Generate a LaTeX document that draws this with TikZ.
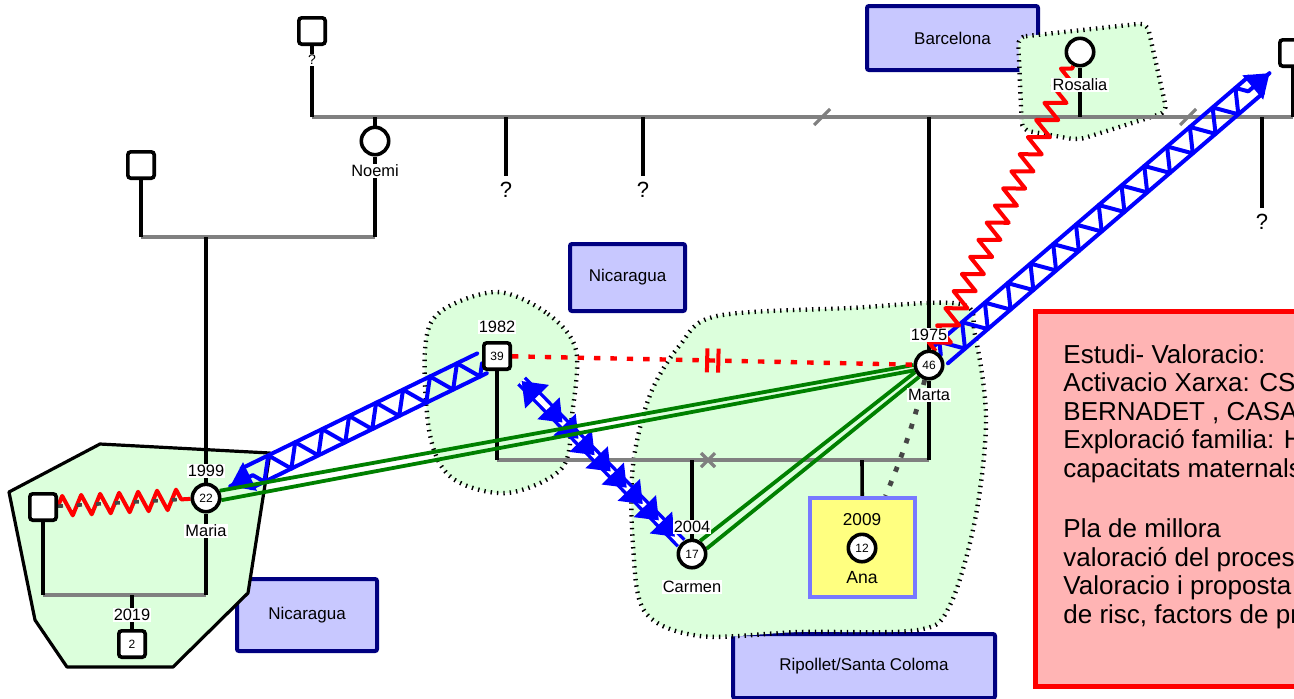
\documentclass[tikz,border=0pt]{standalone}
\usepackage{fontspec}
\setmainfont{Liberation Sans}
\usetikzlibrary{calc,arrows.meta,decorations.pathmorphing,decorations.pathreplacing,decorations.markings}
\definecolor{geno_green}{RGB}{220,255,220}
\definecolor{geno_place}{RGB}{200,200,255}
\definecolor{geno_navy}{RGB}{0,0,128}
\definecolor{geno_note}{RGB}{255,180,180}
\definecolor{geno_yellow}{RGB}{255,255,128}
\definecolor{geno_lilac}{RGB}{120,120,255}
\definecolor{geno_grey}{RGB}{128,128,128}
\definecolor{geno_dark}{RGB}{70,70,70}
\definecolor{geno_leaf}{RGB}{0,128,0}
\pgfdeclarelayer{back}
\pgfdeclarelayer{links}
\pgfsetlayers{back,links,main}
\tikzstyle{ml}=[rectangle,draw=black,fill=white,line width=1.8pt,rounded corners=1.5pt,
  minimum size=13.2pt,inner sep=0pt,font=\fontsize{6}{7}\selectfont]
\tikzstyle{fm}=[circle,draw=black,fill=white,line width=1.8pt,
  minimum size=13.7pt,inner sep=0pt,font=\fontsize{6}{7}\selectfont]
\tikzstyle{lb}=[fill=white,inner sep=0.6pt,font=\fontsize{8.2}{9}\selectfont]
\tikzstyle{qm}=[inner sep=3pt,font=\fontsize{11}{12}\selectfont]
\tikzstyle{pl}=[rectangle,draw=geno_navy,fill=geno_place,line width=2pt,rounded corners=1pt,
  font=\fontsize{8.5}{10}\selectfont]
\tikzstyle{note}=[rectangle,draw=red,fill=geno_note,line width=2.5pt]
\tikzstyle{notetxt}=[align=left,inner sep=0pt,font=\fontsize{13}{14.25}\selectfont]
\tikzstyle{anabx}=[rectangle,draw=geno_lilac,fill=geno_yellow,line width=2pt,
  minimum width=52.5pt,minimum height=49.5pt]
\tikzstyle{grp}=[fill=geno_green,draw=black,line width=2.2pt,dash pattern=on 0.7pt off 2.5pt]
\tikzstyle{fam}=[fill=geno_green,draw=black,line width=1.6pt,line join=round]
\tikzstyle{kin}=[draw=geno_grey,line width=2.1pt]
\tikzstyle{par}=[draw=black,line width=1.8pt]
\tikzstyle{cls}=[draw=geno_leaf,line width=1.9pt]
\tikzstyle{hostile}=[draw=red,line width=2pt,line join=round,decorate,
  decoration={zigzag,segment length=9.5pt,amplitude=5pt}]
\tikzstyle{apart}=[draw=geno_dark,line width=1.8pt,dash pattern=on 2.5pt off 7pt]
\tikzstyle{distant}=[draw=geno_dark,line width=2.4pt,dash pattern=on 2.6pt off 5pt]
\tikzstyle{cutoff}=[draw=red,line width=2.2pt,dash pattern=on 3.2pt off 5pt,
  postaction={decorate,decoration={markings,mark=at position 0.5 with
    {\draw[red,line width=2pt,solid] (-2.8pt,-6pt) -- (-2.8pt,6pt) (2.8pt,-6pt) -- (2.8pt,6pt);}}}]
\tikzstyle{truss}=[
  preaction={decorate,decoration={show path construction,lineto code={
    \draw[blue,line width=2pt,line cap=round]
      ($(\tikzinputsegmentfirst)!5.5pt!90:(\tikzinputsegmentlast)$) --
      ($(\tikzinputsegmentlast)!9pt!(\tikzinputsegmentfirst)!5.5pt!-90:(\tikzinputsegmentfirst)$)
      ($(\tikzinputsegmentfirst)!5.5pt!-90:(\tikzinputsegmentlast)$) --
      ($(\tikzinputsegmentlast)!9pt!(\tikzinputsegmentfirst)!5.5pt!90:(\tikzinputsegmentfirst)$);
    \fill[blue] (\tikzinputsegmentlast) --
      ($(\tikzinputsegmentlast)!11pt!(\tikzinputsegmentfirst)!8pt!90:(\tikzinputsegmentfirst)$) --
      ($(\tikzinputsegmentlast)!11pt!(\tikzinputsegmentfirst)!8pt!-90:(\tikzinputsegmentfirst)$) -- cycle;}}},
  postaction={draw=blue,line width=2pt,line join=round,line cap=round,decorate,
    decoration={zigzag,segment length=15pt,amplitude=5.5pt,post length=11pt}}]
\tikzstyle{fused}=[draw=blue,line width=1.7pt,double=white,double distance=2.8pt,shorten <=7pt,
  postaction={decorate,decoration={markings,
    mark=at position 7pt with {\arrowreversed[blue]{Triangle[length=11pt,width=16pt]}},
    mark=between positions 0.3 and 0.97 step 0.095 with {\arrow[blue]{Triangle[length=10pt,width=15pt]}}}}]

\begin{document}
\begin{tikzpicture}[x=0.5pt,y=-0.5pt]
\useasboundingbox (0,0) rectangle (1294,698);

% first generation
\node[ml] (gf) at (312,31) {};
\node[lb,font=\fontsize{7}{8}\selectfont] (gfq) at (312,60) {?};
\node[fm] (noemi) at (375,141) {};
\node[lb] (noemil) at (375,171) {Noemi};
\node[qm] (qa) at (506,190) {?};
\node[qm] (qb) at (643,190) {?};
\node[qm] (qc) at (1262,222) {?};
\node[fm] (rosalia) at (1080,52) {};
\node[lb] (rosalial) at (1080,85) {Rosalia};
\node[ml] (uncle) at (1293,53) {};
\node[ml] (gfm) at (141,165) {};

% second generation
\node[fm] (maria) at (206,498) {22};
\node[lb] (mariay) at (206,471) {1999};
\node[lb] (marial) at (206,531) {Maria};
\node[ml] (partner) at (43,507) {};
\node[ml] (son) at (132,644) {2};
\node[lb] (sony) at (132,615) {2019};
\node[ml] (ex) at (497,356) {39};
\node[lb] (exy) at (497,327) {1982};
\node[fm] (marta) at (929,365) {46};
\node[lb] (martay) at (929,335) {1975};
\node[lb] (martal) at (929,395) {Marta};
\node[fm] (carmen) at (692,554) {17};
\node[lb] (carmeny) at (692,527) {2004};
\node[lb] (carmenl) at (692,587) {Carmen};
\node[anabx] (anabox) at (862.5,547.5) {};
\node[fm] (ana) at (862,548) {12};
\node[font=\fontsize{8.6}{10}\selectfont] (anay) at (862,520) {2009};
\node[font=\fontsize{8.8}{10}\selectfont] (anal) at (862,578) {Ana};

% junctions
\coordinate (g1a) at (312,117);
\coordinate (g1b) at (1293,117);
\coordinate (g1n) at (375,117);
\coordinate (g1q) at (506,117);
\coordinate (g1p) at (643,117);
\coordinate (g1m) at (929,117);
\coordinate (g1r) at (1080,117);
\coordinate (g1s) at (1262,117);
\coordinate (g2a) at (141,237);
\coordinate (g2b) at (375,237);
\coordinate (g2m) at (206,237);
\coordinate (g3a) at (43,595);
\coordinate (g3b) at (206,595);
\coordinate (g3c) at (132,595);
\coordinate (g4a) at (497,460);
\coordinate (g4b) at (929,460);
\coordinate (g4c) at (692,460);
\coordinate (g4d) at (862,460);

% places and groups
\begin{pgfonlayer}{back}
\node[pl,minimum width=85.5pt,minimum height=32pt] (bcn) at (952.5,38) {Barcelona};
\node[pl,minimum width=57.5pt,minimum height=33.5pt] (nica) at (627.5,277.5) {Nicaragua};
\node[pl,minimum width=70pt,minimum height=36pt] (nicb) at (307,615) {Nicaragua};
\node[pl,minimum width=131pt,minimum height=32pt] (rip) at (864,666) {Ripollet/Santa Coloma};
\node[note,anchor=north west,minimum width=150pt,minimum height=187.5pt] (note) at (1033,309) {};
\node[notetxt,anchor=north west] (notetext) at (1063,344) {Estudi- Valoracio:\\
  Activacio Xarxa: CSM\\ BERNADET , CASA\\ Exploració familia: H\\ capacitats maternals\\[16pt]
  Pla de millora\\ valoració del proces\\ Valoracio i proposta\\ de risc, factors de pr};
\draw[grp,rounded corners=4pt] (1018,37) -- (1147,23) -- (1167,112) -- (1078,140) -- (1022,130) -- cycle;
\draw[grp] plot[smooth cycle,tension=0.55] coordinates {(497,292) (548,314) (576,350) (572,415)
  (562,468) (507,493) (452,478) (430,435) (425,350) (440,312)};
\draw[grp] plot[smooth cycle,tension=0.55] coordinates {(717,316) (850,308) (960,304) (975,335)
  (986,420) (975,520) (950,605) (918,630) (800,632) (700,636) (645,612) (633,545) (633,465)
  (650,395) (680,345)};
\draw[fam] (9,492) -- (100,444) -- (270,453) -- (248,593) -- (173,667) -- (67,667) -- (35,620) -- cycle;
\end{pgfonlayer}

\begin{pgfonlayer}{links}
\draw[kin] (g1a) -- (g1b);
\draw[kin] (g2a) -- (g2b);
\draw[kin] (g3a) -- (g3b);
\draw[kin] (g4a) -- (g4b);
\draw[kin,line width=1.6pt] (814,125) -- (830,109);
\draw[kin,line width=1.6pt] (1180,125) -- (1196,109);
\draw[kin,line width=1.6pt] (701,453) -- (715,467) (701,467) -- (715,453);
\draw[par] (gf) -- (g1a);
\draw[par] (g1n) -- (noemi);
\draw[par] (noemi) -- (g2b);
\draw[par] (g1q) -- (qa);
\draw[par] (g1p) -- (qb);
\draw[par] (g1s) -- (qc);
\draw[par] (rosalia) -- (g1r);
\draw[par] (uncle) -- (g1b);
\draw[par] (g1m) -- (marta);
\draw[par] (marta) -- (g4b);
\draw[par] (gfm) -- (g2a);
\draw[par] (g2m) -- (maria);
\draw[par] (maria) -- (g3b);
\draw[par] (partner) -- (g3a);
\draw[par] (g3c) -- (son);
\draw[par] (ex) -- (g4a);
\draw[par] (g4c) -- (carmen);
\draw[par] (g4d) -- (anabox);
% relations
\path[truss] (ex) -- ($(maria)!13.5pt!(ex)$);
\path[truss] (marta) -- ($(uncle)!15.5pt!(marta)$);
\draw[fused] (ex) -- (carmen);
\draw[cls] (maria.28) -- (marta.180);
\draw[cls] (maria.-8) -- (marta.200);
\draw[cls] (carmen.58) -- (marta.207);
\draw[cls] (carmen.20) -- (marta.230);
\draw[cutoff] (ex) -- (marta);
\draw[hostile] (marta) -- (rosalia);
\draw[hostile] (partner) -- (maria);
\draw[apart] (partner) -- (maria);
\draw[distant] (marta) to[bend left=4] (anabox);
\end{pgfonlayer}
\end{tikzpicture}
\end{document}
